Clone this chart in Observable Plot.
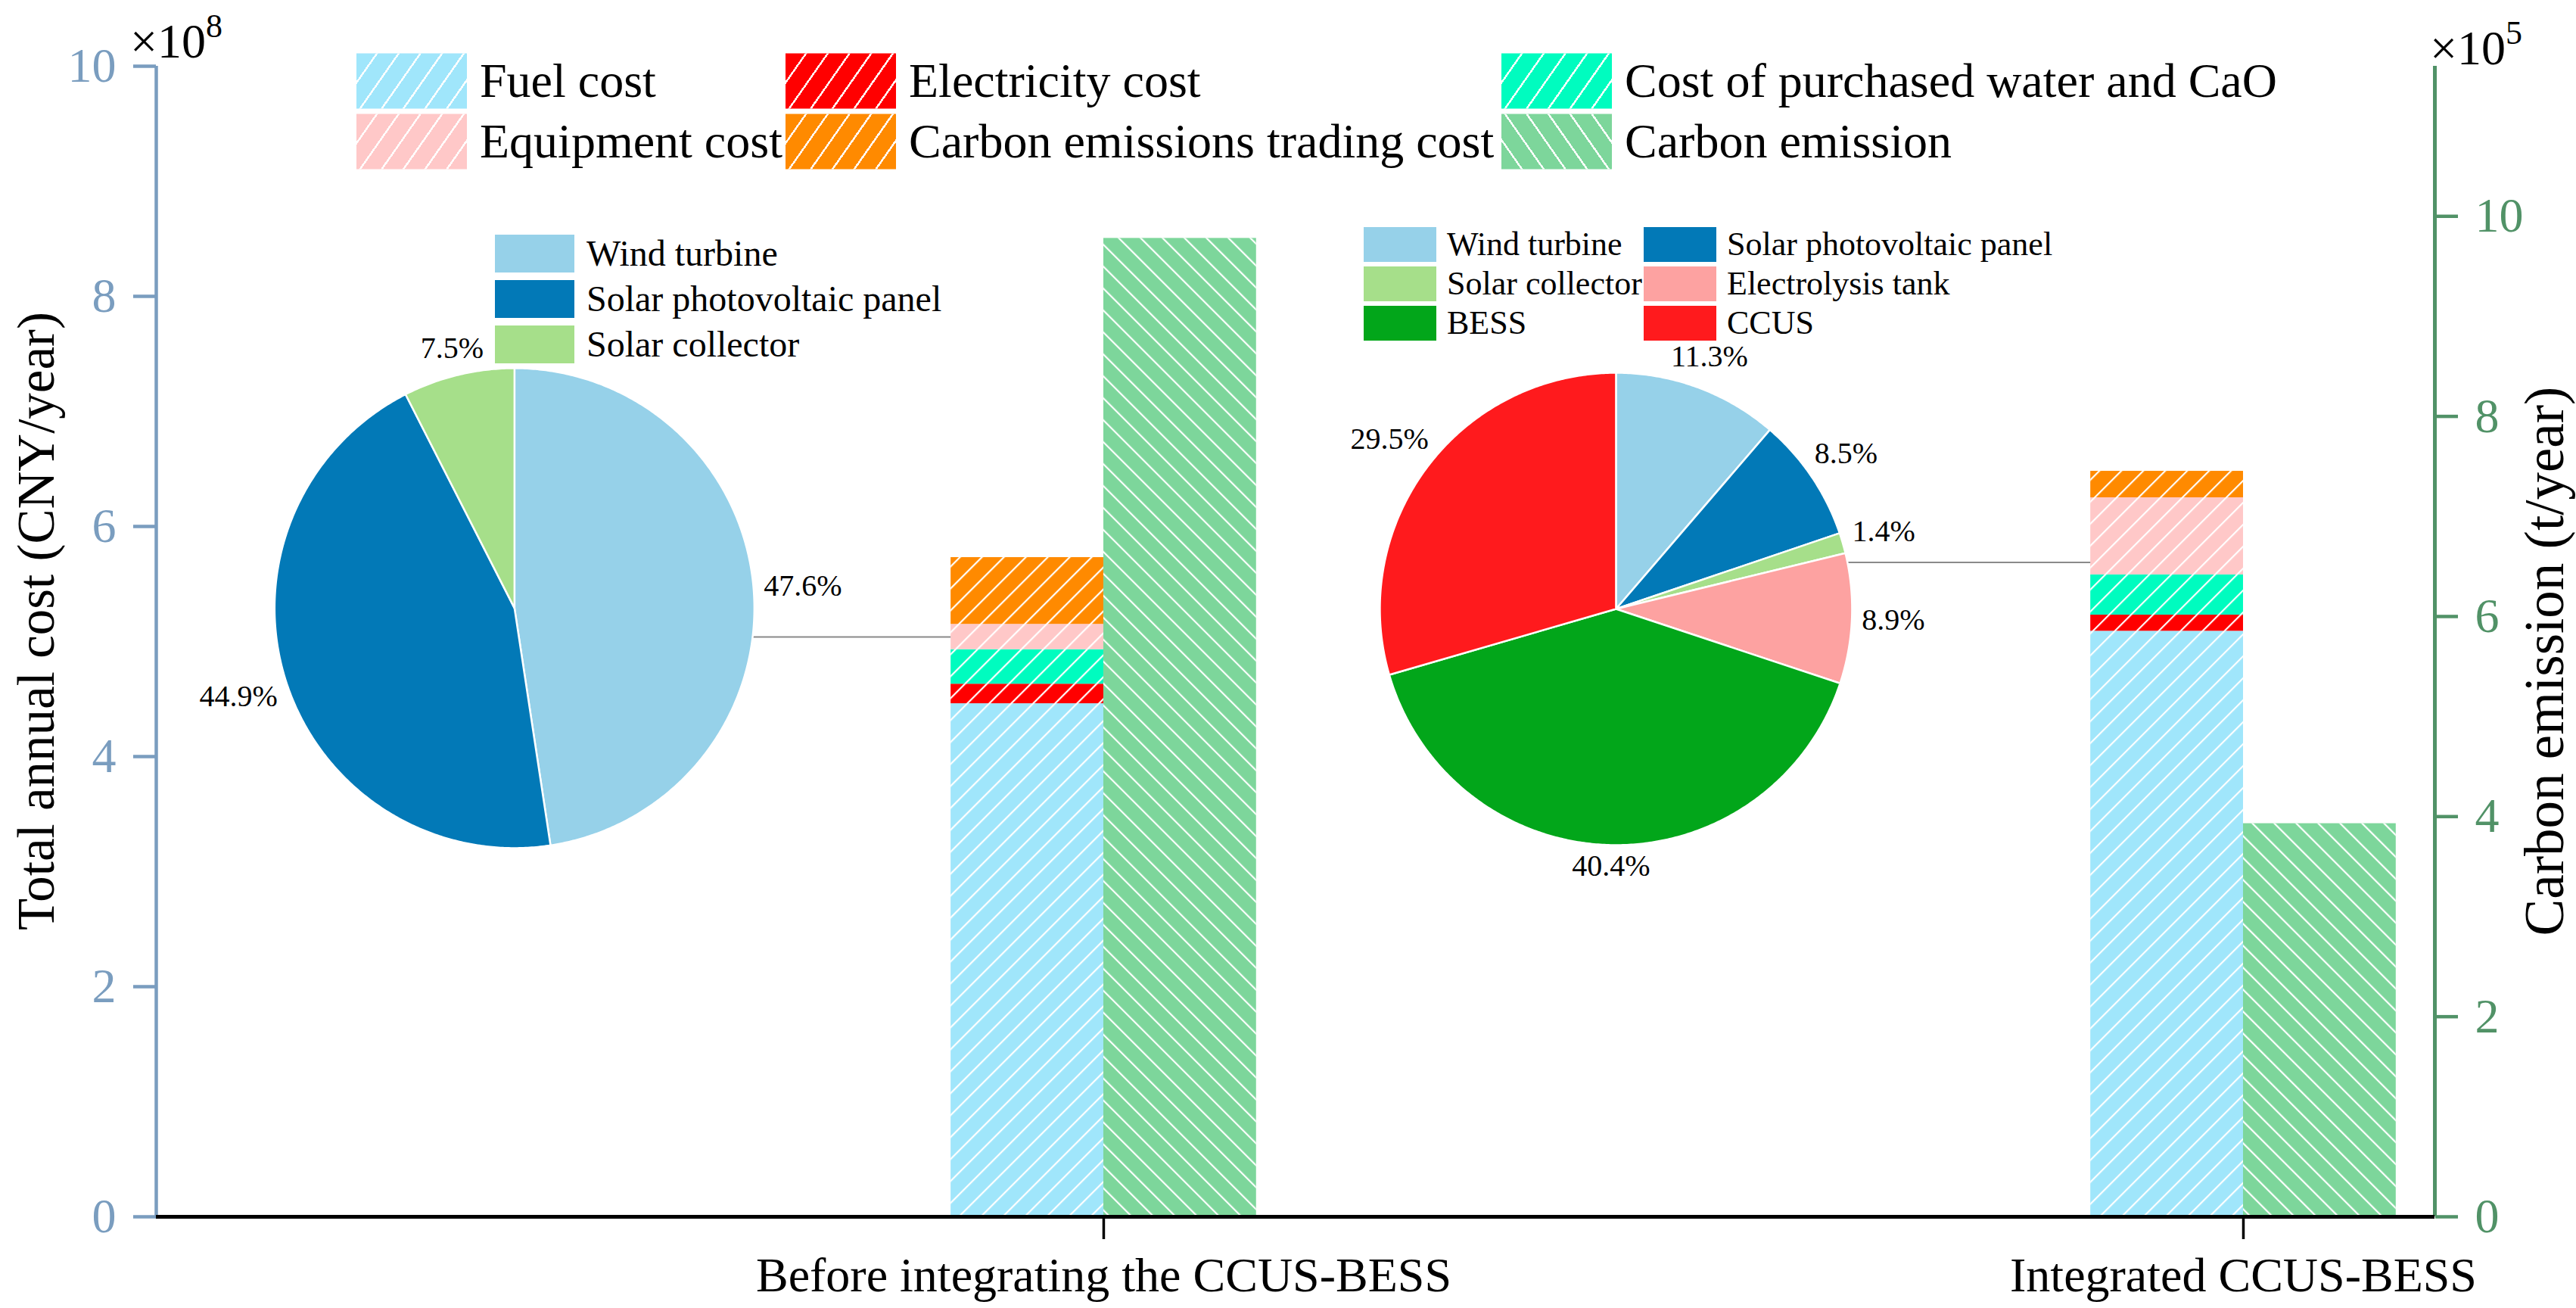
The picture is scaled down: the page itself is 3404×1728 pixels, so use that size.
<!DOCTYPE html>
<html>
<head>
<meta charset="utf-8">
<script src="https://cdn.jsdelivr.net/npm/d3@7"></script>
<script src="https://cdn.jsdelivr.net/npm/@observablehq/plot@0.6"></script>
<style>
  html, body { margin: 0; padding: 0; background: #fff; overflow: hidden; }
  #wrap { position: relative; width: 3404px; height: 1728px; font-family: "Liberation Serif", "Times New Roman", serif; color: #000; }
  #wrap > svg { position: absolute; left: 0; top: 0; }
  .item { position: absolute; display: flex; align-items: center; white-space: nowrap; line-height: 1; }
  .sw { flex: none; }
  .mult { position: absolute; font-size: 64px; line-height: 1; white-space: nowrap; }
  .mult span { font-size: 44px; position: relative; top: -27px; }
</style>
</head>
<body>
<div id="wrap"></div>
<script>
// ---------------- DATA ----------------
const categories = ["Before integrating the CCUS-BESS", "Integrated CCUS-BESS"];
const costSeries = ["Fuel cost", "Electricity cost", "Cost of purchased water and CaO", "Equipment cost", "Carbon emissions trading cost"];
const costBefore = [4.46, 0.17, 0.30, 0.22, 0.58];      // ×10^8 CNY/year
const costIntegrated = [5.09, 0.14, 0.35, 0.67, 0.23];  // ×10^8 CNY/year
const emissionSeries = "Carbon emission";
const carbonEmission = [9.78, 3.93];                    // ×10^5 t/year
const leftTicks = [0, 2, 4, 6, 8, 10];
const rightTicks = [0, 2, 4, 6, 8, 10];
const pieBeforeNames = ["Wind turbine", "Solar photovoltaic panel", "Solar collector"];
const pieBeforeShares = [47.6, 44.9, 7.5];
const pieIntegratedNames = ["Wind turbine", "Solar photovoltaic panel", "Solar collector", "Electrolysis tank", "BESS", "CCUS"];
const pieIntegratedShares = [11.3, 8.5, 1.4, 8.9, 40.4, 29.5];

// ---------------- STYLE / LAYOUT ----------------
const colorDomain = [...costSeries, emissionSeries, "Wind turbine", "Solar photovoltaic panel", "Solar collector", "Electrolysis tank", "BESS", "CCUS"];
const colorRange = ["#a0e6fb", "#ff0000", "#00fcbf", "#ffc8c8", "#ff8a00", "#7dd69b", "#96d1e9", "#0279b7", "#a6df8a", "#fda2a1", "#02a61a", "#ff1a1d"];
const colorOf = name => colorRange[colorDomain.indexOf(name)];
const leftColor = "#7a9dbf";
const rightColor = "#519267";

const W = 3404, H = 1728;
const M = {top: 87, right: 187, bottom: 121, left: 206};
const xDomain = [-0.8313, 1.168];
const yDomain = [0, 10];
const rightMax = 11.5;
const barW = 0.134;
const kx = (W - M.left - M.right) / (xDomain[1] - xDomain[0]);
const ky = (H - M.top - M.bottom) / (yDomain[1] - yDomain[0]);
const toLeft = v => v * yDomain[1] / rightMax;

const pieLayout = [
  {names: pieBeforeNames, shares: pieBeforeShares, cx: -0.517, cy: 5.29, r: 317, cat: 0, frac: 0.5},
  {names: pieIntegratedNames, shares: pieIntegratedShares, cx: 0.4495, cy: 5.283, r: 312, cat: 1, frac: 0.16}
];
const pieFont = 40;

// ---------------- DERIVED TABLES ----------------
const costRows = [];
[costBefore, costIntegrated].forEach((vals, i) => {
  let acc = 0;
  vals.forEach((v, j) => { costRows.push({cat: i, series: costSeries[j], y1: acc, y2: acc + v}); acc += v; });
});
const emRows = carbonEmission.map((v, i) => ({cat: i, series: emissionSeries, y1: 0, y2: toLeft(v)}));

const piePolys = [], pieLabels = [];
const textW = (s, fs) => { let w = 0; for (const c of s) w += c === "." ? 0.25 : c === "%" ? 0.833 : 0.5; return w * fs; };
pieLayout.forEach((p, pi) => {
  const arcs = d3.pie().sort(null).value(d => d.value)(p.names.map((n, i) => ({name: n, value: p.shares[i]})));
  arcs.forEach((a, si) => {
    const key = pi + "-" + si;
    piePolys.push({key, name: a.data.name, x: p.cx, y: p.cy});
    const n = Math.max(2, Math.ceil((a.endAngle - a.startAngle) / (Math.PI / 360)));
    for (let k = 0; k <= n; k++) {
      const t = a.startAngle + (a.endAngle - a.startAngle) * k / n;
      piePolys.push({key, name: a.data.name, x: p.cx + p.r * Math.sin(t) / kx, y: p.cy + p.r * Math.cos(t) / ky});
    }
    const m = (a.startAngle + a.endAngle) / 2;
    const txt = a.data.value.toFixed(1) + "%";
    const dist = p.r * 1.04 + 0.5 * textW(txt, pieFont) * Math.abs(Math.sin(m)) + 0.35 * pieFont * Math.abs(Math.cos(m));
    pieLabels.push({text: txt, x: p.cx + dist * Math.sin(m) / kx, y: p.cy + dist * Math.cos(m) / ky});
  });
});
const connectors = pieLayout.map(p => {
  const seg = costRows.find(r => r.cat === p.cat && r.series === "Equipment cost");
  const y = seg.y1 + p.frac * (seg.y2 - seg.y1);
  const dyPx = (y - p.cy) * ky;
  return {y, x1: p.cx + Math.sqrt(p.r * p.r - dyPx * dyPx) / kx, x2: p.cat - barW};
});

const defs = () => {
  const g = document.createElementNS("http://www.w3.org/2000/svg", "defs");
  g.innerHTML =
    `<pattern id="hatchF" patternUnits="userSpaceOnUse" width="20.5" height="20.5" patternTransform="rotate(45)">
       <line x1="3" y1="0" x2="3" y2="20.5" stroke="#fff" stroke-width="2.2"/></pattern>
     <pattern id="hatchB" patternUnits="userSpaceOnUse" width="20.5" height="20.5" patternTransform="rotate(-45)">
       <line x1="3" y1="0" x2="3" y2="20.5" stroke="#fff" stroke-width="2.2"/></pattern>`;
  return g;
};

const chart = Plot.plot({
  width: W, height: H,
  marginTop: M.top, marginRight: M.right, marginBottom: M.bottom, marginLeft: M.left,
  style: {fontFamily: '"Liberation Serif", "Times New Roman", serif', fontSize: "64px", background: "transparent", color: "#000"},
  x: {type: "linear", domain: xDomain},
  y: {domain: yDomain},
  color: {domain: colorDomain, range: colorRange},
  marks: [
    defs,
    Plot.rect(costRows, {x1: d => d.cat - barW, x2: d => d.cat, y1: "y1", y2: "y2", fill: "series"}),
    Plot.rect(costRows, {x1: d => d.cat - barW, x2: d => d.cat, y1: "y1", y2: "y2", fill: "url(#hatchF)"}),
    Plot.rect(emRows, {x1: d => d.cat, x2: d => d.cat + barW, y1: "y1", y2: "y2", fill: "series"}),
    Plot.rect(emRows, {x1: d => d.cat, x2: d => d.cat + barW, y1: "y1", y2: "y2", fill: "url(#hatchB)"}),
    Plot.ruleY(connectors, {y: "y", x1: "x1", x2: "x2", stroke: "#8a8a8a", strokeWidth: 2}),
    Plot.line(piePolys, {x: "x", y: "y", z: "key", fill: "name", stroke: "#fff", strokeWidth: 2.5, curve: "linear-closed"}),
    Plot.text(pieLabels, {x: "x", y: "y", text: "text", fontSize: pieFont, fill: "#000"}),
    Plot.ruleX([xDomain[0]], {stroke: leftColor, strokeWidth: 4.5}),
    Plot.ruleX([xDomain[1]], {stroke: rightColor, strokeWidth: 5}),
    Plot.axisY({anchor: "left", ticks: leftTicks, tickSize: 30, tickPadding: 23, strokeWidth: 4.5, color: leftColor, fontSize: 64, label: null}),
    Plot.axisY({anchor: "right", ticks: rightTicks.map(toLeft), tickFormat: d => String(Math.round(d * rightMax / yDomain[1])), tickSize: 30, tickPadding: 23, strokeWidth: 4.5, color: rightColor, fontSize: 64, label: null}),
    Plot.axisX({ticks: [0, 1], tickFormat: i => categories[i], tickSize: 30, tickPadding: 23, strokeWidth: 3.5, fontSize: 64, label: null, color: "#000"}),
    Plot.ruleY([0], {stroke: "#000", strokeWidth: 5}),
    Plot.text(["Total annual cost (CNY/year)"], {frameAnchor: "left", textAnchor: "middle", lineAnchor: "middle", rotate: -90, dx: -158, dy: -27, fontSize: 69, fill: "#000"}),
    Plot.text(["Carbon emission (t/year)"], {frameAnchor: "right", textAnchor: "middle", lineAnchor: "middle", rotate: -90, dx: 146, dy: 26, fontSize: 73, fill: "#000"})
  ]
});

const wrap = document.getElementById("wrap");
wrap.appendChild(chart);

// ---------------- OVERLAY TEXT / LEGENDS ----------------
function addItem(left, top, sw, swH, gap, fs, name, bg) {
  const d = document.createElement("div");
  d.className = "item";
  d.style.left = left + "px"; d.style.top = (top + swH / 2) + "px";
  d.style.transform = "translateY(-50%)";
  d.style.fontSize = fs + "px";
  const s = document.createElement("div");
  s.className = "sw";
  s.style.width = sw + "px"; s.style.height = swH + "px"; s.style.marginRight = gap + "px";
  s.style.background = bg;
  d.appendChild(s);
  d.appendChild(document.createTextNode(name));
  wrap.appendChild(d);
}
const hatchCss = (c, back) => back
  ? `repeating-linear-gradient(55deg, transparent 0 21px, rgba(255,255,255,0.95) 21px 23.5px), ${c}`
  : `repeating-linear-gradient(125deg, transparent 0 21px, rgba(255,255,255,0.95) 21px 23.5px), ${c}`;

const mainLegend = [...costSeries, emissionSeries];
const legCols = [471, 1038, 1984], legRows = [70, 150];
mainLegend.forEach((n, i) => addItem(legCols[i % 3], legRows[Math.floor(i / 3)], 146, 73, 17, 64, n, hatchCss(colorOf(n), n === emissionSeries)));

pieBeforeNames.forEach((n, i) => addItem(654, [310, 370, 430][i], 105, 50, 16, 48, n, colorOf(n)));
pieIntegratedNames.forEach((n, i) => addItem([1802, 2172][i % 2], [300, 352, 404][Math.floor(i / 2)], 96, 46, 14, 44, n, colorOf(n)));

function addMult(left, top, exp) {
  const d = document.createElement("div");
  d.className = "mult";
  d.style.left = left + "px"; d.style.top = top + "px";
  d.innerHTML = "×10<span>" + exp + "</span>";
  wrap.appendChild(d);
}
addMult(172, 23, "8");
addMult(3211, 32, "5");
</script>
</body>
</html>
